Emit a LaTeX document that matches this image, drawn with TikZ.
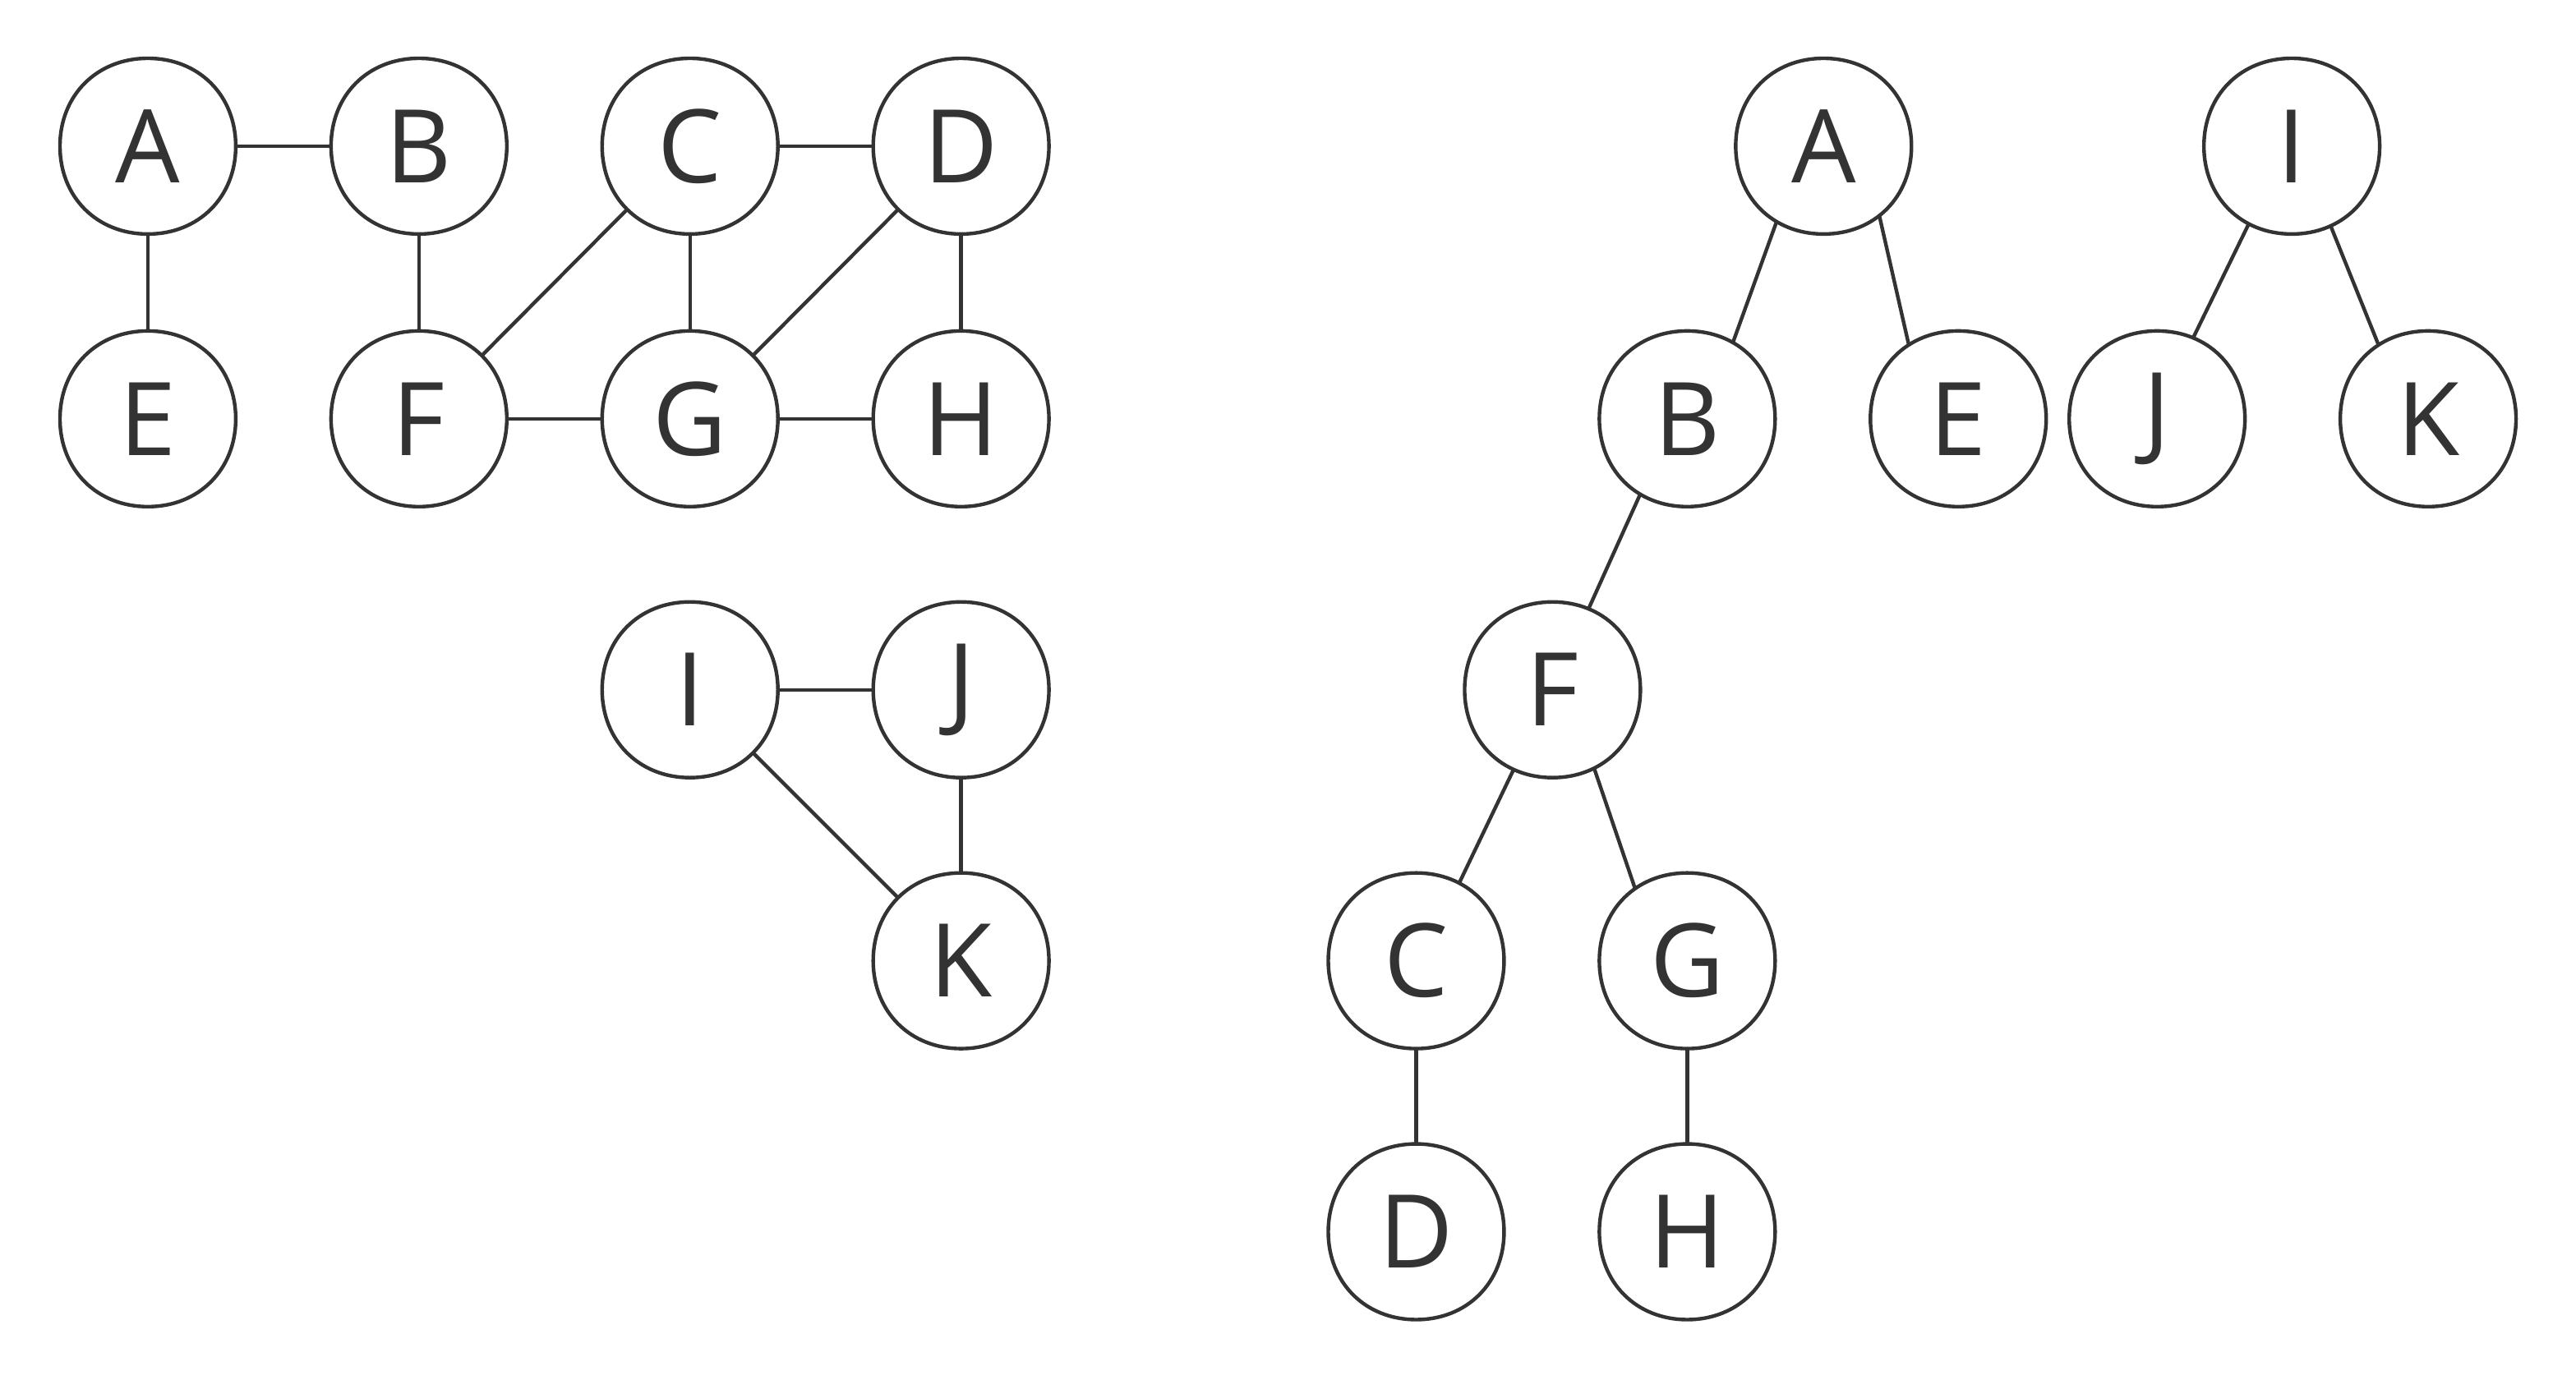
\documentclass[tikz,border=0pt]{standalone}
\usepackage{fontspec}
\setmainfont{Open Sans}
\usetikzlibrary{backgrounds}
\definecolor{ink}{HTML}{333333}
\tikzset{
  vtx/.style={circle,minimum size=107pt,inner sep=0pt,text=ink,
    font=\fontsize{62}{62}\selectfont},
  sqline/.style={draw=ink,line width=2.2pt,fill=white},
  edge/.style={draw=ink,line width=2.2pt}}
\newcommand\vnode[4]{%
  \draw[sqline,shift={(#2,#3)}] (53.5,0) .. controls (53.5,31) and (31,53.5) .. (0,53.5)
    .. controls (-31,53.5) and (-53.5,31) .. (-53.5,0)
    .. controls (-53.5,-31) and (-31,-53.5) .. (0,-53.5)
    .. controls (31,-53.5) and (53.5,-31) .. (53.5,0) -- cycle;
  \node[vtx] (#1) at (#2,#3) {#4};}
\begin{document}
\begin{tikzpicture}[x=1pt,y=-1pt]
\useasboundingbox (0,0) rectangle (1568,840);
% left graph
\vnode{lA}{90}{89}{A}
\vnode{lB}{255}{89}{B}
\vnode{lC}{420}{89}{C}
\vnode{lD}{585}{89}{D}
\vnode{lE}{90}{255}{E}
\vnode{lF}{255}{255}{F}
\vnode{lG}{420}{255}{G}
\vnode{lH}{585}{255}{H}
\vnode{lI}{420}{420}{I}
\vnode{lJ}{585}{420}{J}
\vnode{lK}{585}{585}{K}
% right forest
\vnode{rA}{1110}{89}{A}
\vnode{rI}{1395}{89}{I}
\vnode{rB}{1027}{255}{B}
\vnode{rE}{1192}{255}{E}
\vnode{rJ}{1313}{255}{J}
\vnode{rK}{1478}{255}{K}
\vnode{rF}{945}{420}{F}
\vnode{rC}{862}{585}{C}
\vnode{rG}{1027}{585}{G}
\vnode{rD}{862}{750}{D}
\vnode{rH}{1027}{750}{H}
\begin{pgfonlayer}{background}
\foreach \a/\b in {lA/lB,lA/lE,lB/lF,lC/lD,lC/lF,lC/lG,lD/lG,lD/lH,lF/lG,lG/lH,lI/lJ,lI/lK,lJ/lK}
  \draw[edge] (\a.center) -- (\b.center);
\draw[edge] (rA.238) -- (rB.59);
\draw[edge] (rA.309) -- (rE.124);
\draw[edge] (rB.238) -- (rF.66);
\draw[edge] (rF.244) -- (rC.61);
\draw[edge] (rF.298) -- (rG.126);
\draw[edge] (rC.270) -- (rD.90);
\draw[edge] (rG.270) -- (rH.90);
\draw[edge] (rI.241) -- (rJ.66);
\draw[edge] (rI.296) -- (rK.124);
\end{pgfonlayer}
\end{tikzpicture}
\end{document}
